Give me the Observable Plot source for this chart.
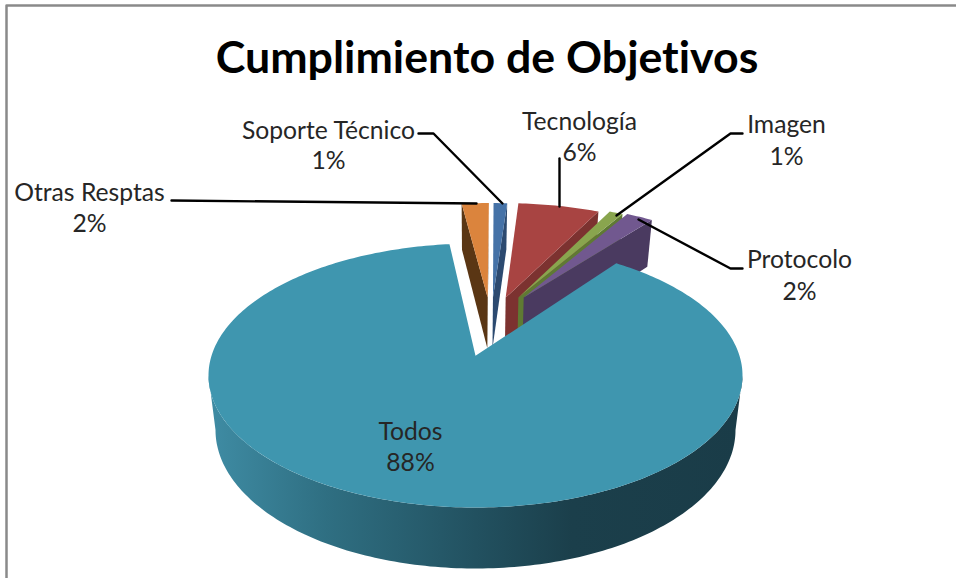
<!DOCTYPE html>
<html>
<head>
<meta charset="utf-8">
<style>
html,body{margin:0;padding:0;background:#fff;overflow:hidden}
svg{display:block;font-variant-ligatures:none}
</style>
<script src="https://cdn.jsdelivr.net/npm/d3@7"></script>
<script src="https://cdn.jsdelivr.net/npm/@observablehq/plot@0.6"></script>
</head>
<body>
<div id="chart"></div>
<script>
const categories = ["Otras Resptas", "Soporte Técnico", "Tecnología", "Imagen", "Protocolo", "Todos"];
const shares = [2, 1, 6, 1, 2, 88];
const topColors = ["#DB843D", "#4572A7", "#A84442", "#89A54E", "#71588F", "#3F96AF"];
const wallColors = ["#5A3614", "#2C4A70", "#7C3230", "#5F7A33", "#4A3A60", "url(#todosWall)"];
const titleText = "Cumplimiento de Objetivos";

// Layout (pixels of the picture), kept apart from the data
const labelLayout = [
  {cx: 89, y1: 193, y2: 224},
  {cx: 328, y1: 131, y2: 161},
  {cx: 579, y1: 122, y2: 153},
  {cx: 786, y1: 125, y2: 157},
  {cx: 799, y1: 260, y2: 292},
  {cx: 410, y1: 432, y2: 463}
];
const leaderLayout = [
  [[171, 200], [476, 203]],
  [[418, 133], [433, 133], [502, 203]],
  [[559, 158], [559, 206]],
  [[742, 133], [730, 133], [616, 215]],
  [[742, 268], [730, 268], [638, 219]]
];

// Tilted disc: projective view of the unit circle
const START = -6.5, PERSP = 0.15, SQ = Math.sqrt(1 - PERSP * PERSP);
const EXPLODED_RU = 1.0, EXPLODED_RV = 0.955;
const rad = d => d * Math.PI / 180;
const project = (u, v) => {
  const w = 1 + PERSP * v;
  return {X: SQ * u / w, Y: (v + PERSP) / w};
};
const drop = p => ({X: p.X * 260 / 267, Y: p.Y * 138.5 / 132 - 54.5 / 132});
const pxX = px => (px - 475) / 267;
const pxY = py => (375 - py) / 132;

let acc = START;
const slices = categories.map((name, i) => {
  const a0 = acc, a1 = acc + shares[i] * 3.6;
  acc = a1;
  return {name, i, a0, a1, mid: (a0 + a1) / 2, exploded: name !== "Todos"};
});

const arc = (s, eu, ev, ru, rv) => {
  const n = Math.max(2, Math.ceil(s.a1 - s.a0));
  return d3.range(n + 1).map(k => {
    const a = rad(s.a0 + (s.a1 - s.a0) * k / n);
    return project(eu + ru * Math.sin(a), ev + rv * Math.cos(a));
  });
};
const poly = (pts, fill) =>
  Plot.line(pts, {x: "X", y: "Y", fill, stroke: "none", curve: "linear"});

const marks = [];
marks.push(() => {
  const defs = d3.create("svg:defs");
  const g = defs.append("linearGradient").attr("id", "todosWall")
    .attr("x1", 0).attr("x2", 1).attr("y1", 0).attr("y2", 0);
  [[0, "#3F8CA4"], [0.22, "#2F6F82"], [0.5, "#225160"], [0.68, "#1B3F4B"], [1, "#1A3C48"]]
    .forEach(([o, c]) => g.append("stop").attr("offset", o).attr("stop-color", c));
  return defs.node();
});

// Frame (left and top only)
marks.push(Plot.line([[6, 578], [6, 5], [956, 5]].map(([a, b]) => ({X: pxX(a), Y: pxY(b)})),
  {x: "X", y: "Y", stroke: "#8A8A8A", strokeWidth: 2.5}));

// Exploded slices, back to front
for (const s of slices.filter(d => d.exploded)) {
  const eu = 0.123 + 0.237 * Math.sin(rad(s.mid - 15.2)), ev = 0.483;
  const apex = project(eu, ev);
  const outer = arc(s, eu, ev, EXPLODED_RU, EXPLODED_RV);
  const p0 = outer[0], p1 = outer[outer.length - 1];
  if (p0.X < apex.X) marks.push(poly([apex, p0, drop(p0), drop(apex)], wallColors[s.i]));
  if (p1.X > apex.X) marks.push(poly([apex, p1, drop(p1), drop(apex)], wallColors[s.i]));
  marks.push(poly([apex, ...outer], topColors[s.i]));
}

// Large slice: wall between the two silhouette points of the disc
const main = slices.find(d => !d.exploded);
const mainArc = arc(main, 0, 0, 1, 1);
const sil = Math.acos(-PERSP) * 180 / Math.PI;
const front = d3.range(sil, 360 - sil, 1).concat(360 - sil)
  .map(a => project(Math.sin(rad(a)), Math.cos(rad(a))));
marks.push(poly([...front, ...front.map(drop).reverse()], wallColors[main.i]));
marks.push(poly([project(0, 0), ...mainArc], topColors[main.i]));

// Leaders
leaderLayout.forEach(pts => marks.push(
  Plot.line(pts.map(([a, b]) => ({X: pxX(a), Y: pxY(b)})),
    {x: "X", y: "Y", stroke: "#000", strokeWidth: 2.4})));

// Labels
const labelRows = slices.flatMap(s => {
  const l = labelLayout[s.i];
  return [
    {X: pxX(l.cx), Y: pxY(l.y1), t: s.name},
    {X: pxX(l.cx), Y: pxY(l.y2), t: shares[s.i] + "%"}
  ];
});
marks.push(Plot.text(labelRows, {
  x: "X", y: "Y", text: "t", fill: "#262626", fontSize: 24.7,
  textAnchor: "middle", lineAnchor: "middle", fontFamily: "Lato"
}));
marks.push(Plot.text([{X: pxX(486.5), Y: pxY(58), t: titleText}], {
  x: "X", y: "Y", text: "t", fill: "#000", fontSize: 44.7, fontWeight: 700,
  textAnchor: "middle", lineAnchor: "middle", fontFamily: "Lato"
}));

const chart = Plot.plot({
  width: 956, height: 578, margin: 0,
  style: {background: "#fff", overflow: "hidden"},
  x: {domain: [-1, 1], range: [208, 742], axis: null},
  y: {domain: [-1, 1], range: [507, 243], axis: null},
  marks
});
document.getElementById("chart").append(chart);
</script>
</body>
</html>
